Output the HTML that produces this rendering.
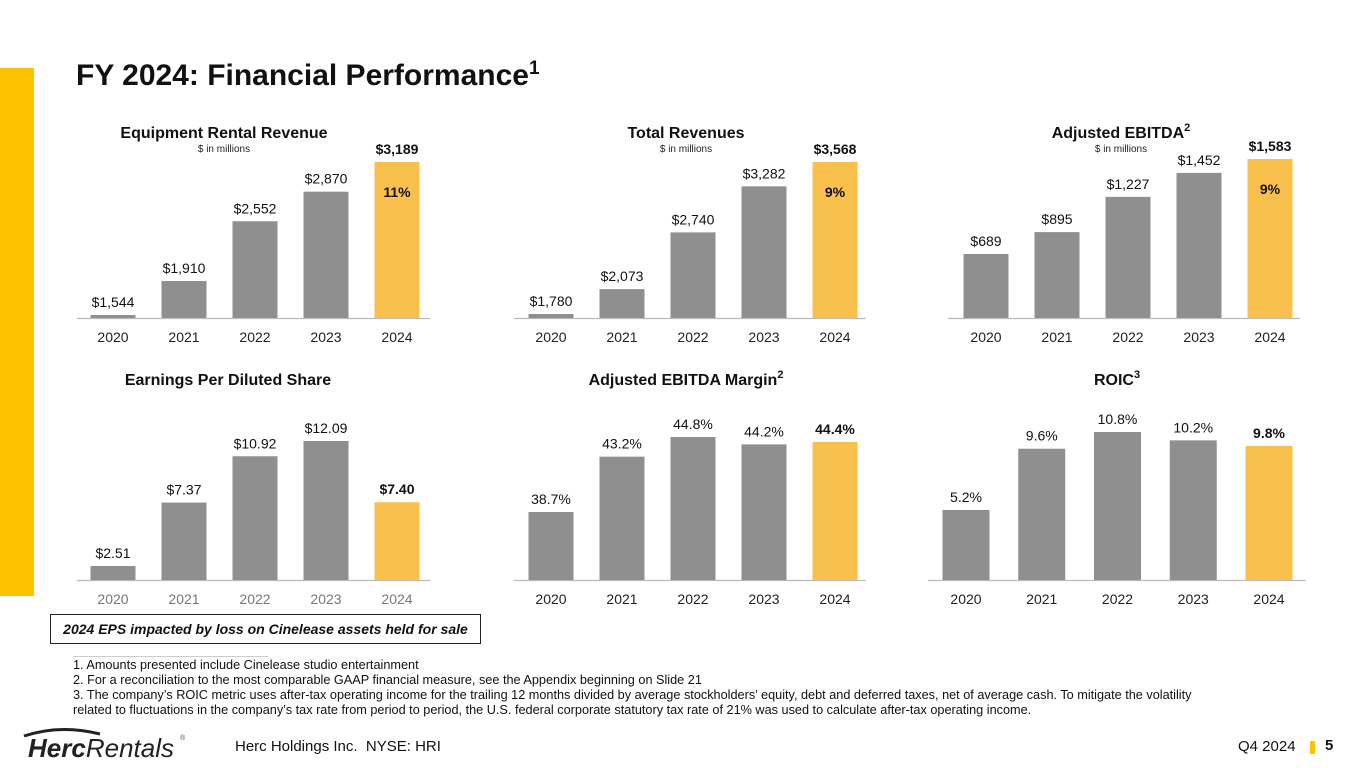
<!DOCTYPE html>
<html><head><meta charset="utf-8">
<style>
body{margin:0;width:1365px;height:768px;position:relative;overflow:hidden;background:#fff;font-family:"Liberation Sans",Arial,sans-serif;}
.abs{position:absolute;}
</style></head>
<body>
<div class="abs" style="left:0;top:68px;width:34px;height:528px;background:#FDC300"></div>
<div class="abs" style="left:76px;top:58px;font-size:30px;font-weight:bold;color:#111">FY 2024: Financial Performance<sup style="font-size:19px">1</sup></div>
<svg class="abs" style="left:0;top:0" width="1365" height="768" id="charts"></svg>
<div class="abs" style="left:50px;top:614px;width:431px;height:30px;border:1.5px solid #222;box-sizing:border-box;font-size:14px;font-weight:bold;font-style:italic;text-align:center;line-height:28px;color:#111">2024 EPS impacted by loss on Cinelease assets held for sale</div>
<div class="abs" style="left:73px;top:656px;width:195px;border-top:1px solid #ccc"></div>
<div class="abs" style="left:73px;top:658px;font-size:12.7px;line-height:15px;color:#111">1. Amounts presented include Cinelease studio entertainment<br>2. For a reconciliation to the most comparable GAAP financial measure, see the Appendix beginning on Slide 21<br>3. The company’s ROIC metric uses after-tax operating income for the trailing 12 months divided by average stockholders’ equity, debt and deferred taxes, net of average cash. To mitigate the volatility<br>related to fluctuations in the company’s tax rate from period to period, the U.S. federal corporate statutory tax rate of 21% was used to calculate after-tax operating income.</div>
<svg class="abs" style="left:20px;top:726px" width="175" height="36">
<path d="M4 10 Q40 -2 80 8" stroke="#222" stroke-width="3" fill="none"/>
<text x="8" y="31" font-family="Liberation Sans" font-size="26" font-weight="bold" font-style="italic" fill="#222">Herc<tspan font-weight="normal">Rentals</tspan></text>
<text x="160" y="14" font-size="7" fill="#444">®</text>
</svg>
<div class="abs" style="left:235px;top:738px;font-size:15px;color:#111">Herc Holdings Inc.&nbsp; NYSE: HRI</div>
<div class="abs" style="left:1238px;top:738px;font-size:15px;color:#111">Q4 2024</div>
<div class="abs" style="left:1310px;top:741px;width:5px;height:13px;background:#FDC300"></div>
<div class="abs" style="left:1325px;top:737px;font-size:15px;font-weight:bold;color:#111">5</div>
<script>
const years=["2020","2021","2022","2023","2024"];
const rentalRev=[1544,1910,2552,2870,3189];
const totalRev=[1780,2073,2740,3282,3568];
const ebitda=[689,895,1227,1452,1583];
const eps=[2.51,7.37,10.92,12.09,7.40];
const margin=[38.7,43.2,44.8,44.2,44.4];
const roic=[5.2,9.6,10.8,10.2,9.8];
const rentalLabels=["$1,544","$1,910","$2,552","$2,870","$3,189"];
const totalLabels=["$1,780","$2,073","$2,740","$3,282","$3,568"];
const ebitdaLabels=["$689","$895","$1,227","$1,452","$1,583"];
const epsLabels=["$2.51","$7.37","$10.92","$12.09","$7.40"];
const marginLabels=["38.7%","43.2%","44.8%","44.2%","44.4%"];
const roicLabels=["5.2%","9.6%","10.8%","10.2%","9.8%"];
const growth=["11%","9%","9%"];
const svg=document.getElementById('charts');
const NS="http://www.w3.org/2000/svg";
function mk(t,a,txt){const e=document.createElementNS(NS,t);for(const k in a)e.setAttribute(k,a[k]);if(txt!==undefined)e.textContent=txt;svg.appendChild(e);return e;}
function chart(cfg){
  const {vals,labels,x0,step,bw,base,baseY,topY,title,sup,sub,growthTxt,yearColor,name,axisL,axisR}=cfg;
  const maxV=Math.max(...vals);
  const sc=v=>baseY-(v-base)*(baseY-topY)/(maxV-base);
  let t=mk('text',{x:cfg.titleX,y:cfg.titleY,'text-anchor':'middle','font-size':16,'font-weight':'bold',fill:'#111'},title);
  
  
  if(sup){const s=document.createElementNS(NS,'tspan');s.setAttribute('font-size',11);s.setAttribute('dy',-7);s.textContent=sup;t.appendChild(s);}
  if(sub){let s=mk('text',{x:cfg.titleX,y:cfg.titleY+14,'text-anchor':'middle','font-size':10,fill:'#222'},sub);
    
    }
  let ax=mk('line',{x1:axisL,x2:axisR,y1:baseY+0.5,y2:baseY+0.5,stroke:'#bbb','stroke-width':1.2});
  
  
  vals.forEach((v,i)=>{
    const cx=x0+i*step, y=sc(v), last=i===vals.length-1;
    const r=mk('rect',{x:cx-bw/2,y:y,width:bw,height:baseY-y,fill:last?'#F9C04E':'#8F8F8F'});
    
    
    const l=mk('text',{x:cx,y:y-8,'text-anchor':'middle','font-size':14,'font-weight':last?'bold':'normal',fill:'#111'},labels[i]);
    
    
    const yl=mk('text',{x:cx,y:baseY+24,'text-anchor':'middle','font-size':14,fill:yearColor},years[i]);
    
    
    if(last&&growthTxt){const g=mk('text',{x:cx,y:y+35,'text-anchor':'middle','font-size':14,'font-weight':'bold',fill:'#111'},growthTxt);
      
      }
  });
}
chart({vals:rentalRev,labels:rentalLabels,x0:113,step:71,bw:45,base:1512,baseY:318,topY:162,title:"Equipment Rental Revenue",sub:"$ in millions",titleX:224,titleY:138,growthTxt:growth[0],yearColor:'#222',name:'rental-revenue',axisL:77,axisR:430});
chart({vals:totalRev,labels:totalLabels,x0:551,step:71,bw:45,base:1733,baseY:318,topY:162,title:"Total Revenues",sub:"$ in millions",titleX:686,titleY:138,growthTxt:growth[1],yearColor:'#222',name:'total-revenues',axisL:514,axisR:866});
chart({vals:ebitda,labels:ebitdaLabels,x0:986,step:71,bw:45,base:87,baseY:318,topY:159,title:"Adjusted EBITDA",sup:"2",sub:"$ in millions",titleX:1121,titleY:138,growthTxt:growth[2],yearColor:'#222',name:'adjusted-ebitda',axisL:948,axisR:1300});
chart({vals:eps,labels:epsLabels,x0:113,step:71,bw:45,base:1.44,baseY:580,topY:441,title:"Earnings Per Diluted Share",titleX:228,titleY:385,yearColor:'#777',name:'eps',axisL:77,axisR:430});
chart({vals:margin,labels:marginLabels,x0:551,step:71,bw:45,base:33.17,baseY:580,topY:437,title:"Adjusted EBITDA Margin",sup:"2",titleX:686,titleY:385,yearColor:'#222',name:'ebitda-margin',axisL:514,axisR:866});
chart({vals:roic,labels:roicLabels,x0:966,step:75.75,bw:47,base:0.175,baseY:580,topY:432,title:"ROIC",sup:"3",titleX:1117,titleY:385,yearColor:'#222',name:'roic',axisL:928,axisR:1306});
</script>
</body></html>
